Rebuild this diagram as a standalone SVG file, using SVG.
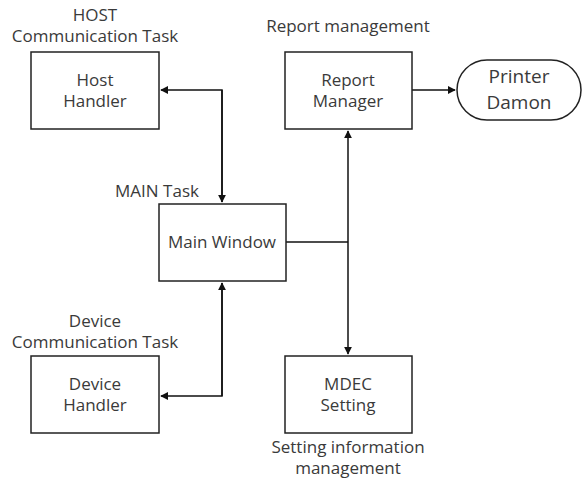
<svg xmlns="http://www.w3.org/2000/svg" width="583" height="482" viewBox="0 0 583 482">
<defs>
<style>
text{font-family:"Open Sans","Noto Sans",sans-serif;font-size:17px;fill:#3a3a3a;text-anchor:middle}
.big{font-size:19px}
.box{fill:#fff;stroke:#222;stroke-width:1.5}
.ln{fill:none;stroke:#111;stroke-width:1.5}
</style>
<marker id="ah" viewBox="0 0 10 10" refX="9" refY="5" markerWidth="8" markerHeight="8" markerUnits="userSpaceOnUse" orient="auto"><path d="M0,0L10,5L0,10z" fill="#111"/></marker>
</defs>
<rect width="583" height="482" fill="#fff"/>
<g id="connectors">
<path class="ln" d="M222,202V90H161" marker-end="url(#ah)"/>
<path class="ln" d="M222,90V202" marker-end="url(#ah)"/>
<path class="ln" d="M222,283V396H161" marker-end="url(#ah)"/>
<path class="ln" d="M222,396V283" marker-end="url(#ah)"/>
<path class="ln" d="M286,242H348"/>
<path class="ln" d="M348,242V131" marker-end="url(#ah)"/>
<path class="ln" d="M348,242V354" marker-end="url(#ah)"/>
<path class="ln" d="M412,90H455" marker-end="url(#ah)"/>
</g>
<g id="host">
<text x="95" y="21">HOST</text>
<text x="95" y="42">Communication Task</text>
<rect class="box" x="31" y="52" width="128" height="77"/>
<text x="95" y="86">Host</text>
<text x="95" y="107">Handler</text>
</g>
<g id="report">
<text x="348" y="32">Report management</text>
<rect class="box" x="285" y="52" width="127" height="77"/>
<text x="348" y="86">Report</text>
<text x="348" y="107">Manager</text>
</g>
<g id="printer">
<rect class="box" x="457" y="60" width="124" height="60" rx="30"/>
<text class="big" x="519" y="83">Printer</text>
<text class="big" x="519" y="109">Damon</text>
</g>
<g id="main">
<text x="157" y="197">MAIN Task</text>
<rect class="box" x="159" y="204" width="127" height="77"/>
<text x="222" y="248">Main Window</text>
</g>
<g id="device">
<text x="95" y="327">Device</text>
<text x="95" y="348">Communication Task</text>
<rect class="box" x="31" y="356" width="128" height="77"/>
<text x="95" y="390">Device</text>
<text x="95" y="411">Handler</text>
</g>
<g id="mdec">
<rect class="box" x="285" y="356" width="127" height="77"/>
<text x="348" y="390">MDEC</text>
<text x="348" y="411">Setting</text>
<text x="348" y="453">Setting information</text>
<text x="348" y="474">management</text>
</g>
</svg>
